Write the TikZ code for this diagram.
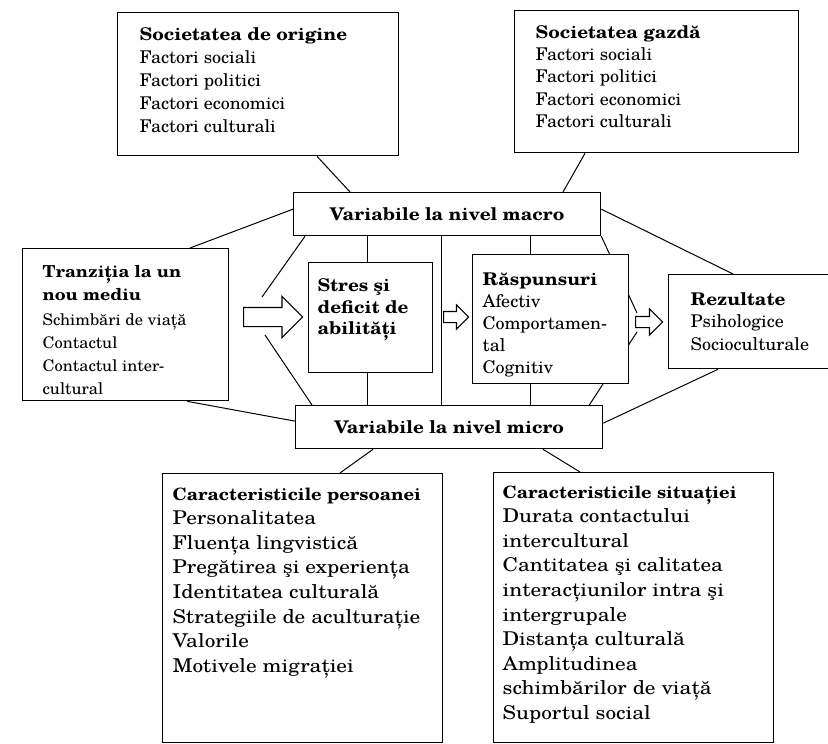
\documentclass[tikz,border=0pt]{standalone}
\usepackage{fontspec}
\setmainfont{texgyreschola}[Extension=.otf, UprightFont=*-regular, BoldFont=*-bold, ItalicFont=*-italic, BoldItalicFont=*-bolditalic, UprightFeatures={FakeStretch=1.03}, BoldFeatures={FakeStretch=1.08}]
\newfontfamily\lowfont{texgyreschola}[Extension=.otf, UprightFont=*-regular, BoldFont=*-bold, FakeStretch=1.12]
\usetikzlibrary{shapes.arrows, positioning, backgrounds}

\newcommand{\boxtext}[3]{\begin{minipage}[t][#2][t]{#1}#3\end{minipage}}

\tikzset{
  box/.style={draw, line width=1.3pt, fill=white, anchor=north west, align=left, font=\fontsize{17.5}{22.8}\selectfont},
  lowbox/.style={box, font=\lowfont\fontsize{19}{24.6}\selectfont},
  varbox/.style={draw, line width=1.3pt, fill=white, anchor=north west, minimum width=307pt, minimum height=43pt, font=\fontsize{17.5}{20}\selectfont\bfseries},
  link/.style={line width=1pt},
  hollow/.style={single arrow, draw, line width=1.1pt, fill=white, anchor=tail, inner xsep=0pt, single arrow head indent=0pt}
}

\begin{document}
\begin{tikzpicture}[x=1pt, y=-1pt]
    \useasboundingbox (0,0) rectangle (828,744);

    \node (origin) [box, inner xsep=22pt, inner ysep=15pt, font=\fontsize{17.5}{23}\selectfont] at (117,12)
      {\boxtext{237pt}{113pt}{\textbf{Societatea de origine}\\ Factori sociali\\ Factori politici\\ Factori economici\\ Factori culturali}};
    \node (gazda) [box, inner xsep=21pt, inner ysep=15pt, font=\fontsize{17.5}{22.2}\selectfont] at (514,10)
      {\boxtext{242pt}{112pt}{\textbf{Societatea gazdă}\\ Factori sociali\\ Factori politici\\ Factori economici\\ Factori culturali}};

    \node (macro) [varbox] at (293,192) {Variabile la nivel macro};
    \node (micro) [varbox] at (295,405) {Variabile la nivel micro};

    \node (tranz) [box, inner xsep=20pt, inner ysep=17pt, font=\fontsize{16}{23}\selectfont] at (22,248)
      {\boxtext{166pt}{118pt}{{\fontsize{16.5}{23}\selectfont\bfseries Tranziția la un\\ nou mediu}\\[2pt] Schimbări de viață\\ Contactul\\ Contactul inter-\\ cultural}};
    \node (stres) [box, inner xsep=9pt, inner ysep=16pt] at (308,262)
      {\boxtext{106pt}{78pt}{\bfseries\baselineskip=21.5pt Stres şi\\ deficit de\\ abilități}};
    \node (rasp) [box, inner xsep=10pt, inner ysep=18pt, font=\fontsize{17.5}{22}\selectfont] at (472,254)
      {\boxtext{136pt}{93pt}{\textbf{Răspunsuri}\\ Afectiv\\ Comportamen-\\ tal\\ Cognitiv}};
    \node (rez) [box, text width=130pt, inner xsep=22pt, inner ysep=0pt, minimum height=94pt] at (668,274)
      {\textbf{Rezultate}\\ Psihologice\\ Socioculturale};

    \node (pers) [lowbox, inner xsep=10pt, inner ysep=14pt] at (162,473)
      {\boxtext{260pt}{241pt}{{\rmfamily\fontsize{17}{24.6}\selectfont\bfseries Caracteristicile persoanei}\\ Personalitatea\\ Fluența lingvistică\\ Pregătirea şi experiența\\ Identitatea culturală\\ Strategiile de aculturație\\ Valorile\\ Motivele migrației}};
    \node (sit) [lowbox, inner xsep=9pt, inner ysep=13pt] at (493,472)
      {\boxtext{262pt}{244pt}{{\rmfamily\fontsize{17}{24.6}\selectfont\bfseries Caracteristicile situației}\\ Durata contactului\\ intercultural\\ Cantitatea şi calitatea\\ interacțiunilor intra şi\\ intergrupale\\ Distanța culturală\\ Amplitudinea\\ schimbărilor de viață\\ Suportul social}};

    \node (big) [hollow, minimum height=59pt, inner ysep=9pt, single arrow head extend=11pt] at (243,317) {};
    \node (mid) [hollow, minimum height=25pt, inner ysep=5pt, single arrow head extend=6.5pt] at (443,317) {};
    \node (out) [hollow, minimum height=27pt, inner ysep=5pt, single arrow head extend=7.5pt] at (635,322) {};

    \coordinate (lup) at (262,297);
    \coordinate (ldown) at (265,335);
    \coordinate (rup) at (637,313);
    \coordinate (rdown) at (637,332);

    \begin{scope}[on background layer]
    \draw [link] ([xshift=200pt]origin.south west) -- ([xshift=57pt]macro.north west);
    \draw [link] ([xshift=71pt]gazda.south west) -- ([xshift=270pt]macro.north west);
    \draw [link] ([xshift=168pt]tranz.north west) -- ([yshift=5pt]macro.west);
    \draw [link] ([xshift=165pt]tranz.south west) -- ([yshift=6pt]micro.west);
    \draw [link] ([xshift=12pt]macro.south west) -- (lup);
    \draw [link] ([xshift=17pt]micro.north west) -- (ldown);
    \draw [link] ([xshift=59pt]stres.north west) -- ([xshift=59pt]stres.north west |- macro.south);
    \draw [link] ([xshift=59pt]stres.south west) -- ([xshift=59pt]stres.south west |- micro.north);
    \draw [link] ([xshift=148pt]macro.south west) -- ([xshift=148pt]macro.south west |- micro.north);
    \draw [link] ([xshift=58pt]rasp.north west) -- ([xshift=58pt]rasp.north west |- macro.south);
    \draw [link] ([xshift=58pt]rasp.south west) -- ([xshift=58pt]rasp.south west |- micro.north);
    \draw [link] (macro.south east) -- (rup);
    \draw [link] ([xshift=-14pt]micro.north east) -- (rdown);
    \draw [link] ([yshift=5pt]macro.east) -- ([xshift=65pt]rez.north west);
    \draw [link] ([yshift=4pt]micro.east) -- ([xshift=50pt]rez.south west);
    \draw [link] ([xshift=78pt]micro.south west) -- ([xshift=178pt]pers.north west);
    \draw [link] ([xshift=248pt]micro.south west) -- ([xshift=87pt]sit.north west);
    \end{scope}
\end{tikzpicture}
\end{document}
